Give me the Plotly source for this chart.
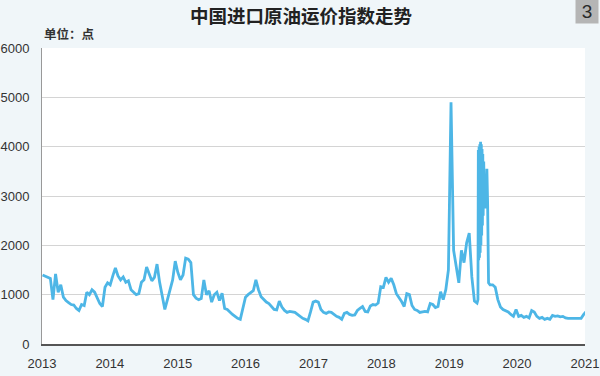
import pandas as pd
import plotly.graph_objects as go

title_text = "中国进口原油运价指数走势"
unit_text = "单位：点"
badge_text = "3"

year_ticks = ["2013", "2014", "2015", "2016", "2017", "2018", "2019", "2020", "2021"]
y_ticks = [0, 1000, 2000, 3000, 4000, 5000, 6000]

# biweekly readings from 2013-01-04 (None = covered by the detailed mid-2019 readings)
base_start = "2013-01-04"
base_values = [
    1400, 1380, 1350, 1330, 900, 1420, 1050, 1200, 950, 880,
    840, 800, 790, 720, 680, 800, 780, 1050, 1000, 1100,
    1050, 950, 820, 760, 1150, 1240, 1200, 1380, 1540, 1380,
    1300, 1360, 1250, 1280, 1100, 1050, 1000, 1020, 1250, 1300,
    1560, 1420, 1280, 1350, 1620, 1250, 950, 700, 900, 1100,
    1300, 1680, 1450, 1300, 1400, 1740, 1720, 1650, 1000, 930,
    900, 920, 1300, 1000, 1080, 850, 1000, 1050, 880, 1030,
    720, 700, 640, 600, 560, 520, 500, 720, 950, 1000,
    1050, 1080, 1300, 1100, 960, 900, 850, 820, 760, 700,
    690, 870, 750, 680, 640, 660, 650, 640, 600, 560,
    520, 500, 470, 650, 850, 870, 850, 700, 640, 620,
    650, 640, 600, 560, 540, 500, 620, 640, 600, 580,
    590, 680, 720, 760, 660, 650, 770, 800, 790, 830,
    1160, 1150, 1350, 1250, 1330, 1200, 1020, 950, 860, 760,
    1020, 1000, 780, 700, 680, 640, 650, 660, 650, 820,
    800, 740, 760, 1060, 900, 1100, 1500, 4900, 1900, 1550,
    1240, 1900, 1650, 2050, 2250, 1360, 870, 830, None, None,
    None, None, 1200, 1200, 1150, 900, 750, 700, 680, 650,
    600, 560, 700, 560, 580, 540, 560, 530, 680, 650,
    560, 520, 540, 500, 520, 500, 580, 560, 570, 550,
    560, 530, 520, 520, 520, 520, 530, 520, 600, 660,
]

# detailed readings of the mid-2019 surge
surge_dates = [
    "2019-06-05", "2019-06-07", "2019-06-09", "2019-06-11", "2019-06-13",
    "2019-06-15", "2019-06-17", "2019-06-19", "2019-06-21", "2019-06-23",
    "2019-06-25", "2019-06-27", "2019-06-29", "2019-07-01", "2019-07-03",
    "2019-07-06", "2019-07-10", "2019-07-14", "2019-07-18", "2019-07-23",
    "2019-07-27", "2019-08-01",
]
surge_values = [
    900, 3930, 1700, 4000, 1750,
    4050, 1850, 4100, 2000, 4050,
    2200, 3950, 2400, 3850, 2600,
    3700, 2800, 3000, 2750, 3550,
    2850, 1240,
]

base = pd.DataFrame({
    "date": pd.date_range(base_start, periods=len(base_values), freq="14D"),
    "value": base_values,
}).dropna()
surge = pd.DataFrame({"date": pd.to_datetime(surge_dates), "value": surge_values})
series = pd.concat([base, surge]).sort_values("date")

fig = go.Figure()
fig.add_trace(go.Scatter(
    x=series["date"], y=series["value"], mode="lines",
    line=dict(color="#4db6e6", width=2.8),
    hoverinfo="skip", showlegend=False,
))

fig.update_layout(
    width=600, height=376,
    margin=dict(l=42, r=15, t=48, b=32),
    paper_bgcolor="#f0f6f9",
    plot_bgcolor="#ffffff",
    font=dict(family="Liberation Sans, Arial, sans-serif", size=13, color="#333333"),
    xaxis=dict(
        type="date",
        range=["2013-01-01", "2021-01-01"],
        tickvals=[f"{y}-01-01" for y in year_ticks],
        ticktext=year_ticks,
        showgrid=False, zeroline=False,
        showline=True, linecolor="#555555", linewidth=2,
        ticks="", ticklabelstandoff=6,
        tickfont=dict(size=13, color="#333333"),
        automargin=False,
        fixedrange=True,
    ),
    yaxis=dict(
        range=[0, 6000],
        tickvals=y_ticks,
        ticktext=[str(v) for v in y_ticks],
        showgrid=True, gridcolor="#d4d4d4", gridwidth=1,
        zeroline=False,
        showline=True, linecolor="#999999", linewidth=1,
        ticks="", ticklabelstandoff=9,
        tickfont=dict(size=13, color="#333333"),
        automargin=False,
        fixedrange=True,
    ),
    annotations=[
        dict(text=f"<b>{title_text}</b>", xref="paper", yref="paper",
             x=(301 - 42) / 543, y=1, yshift=33, xanchor="center", yanchor="middle",
             showarrow=False,
             font=dict(family="Noto Sans CJK SC", size=18.5, color="#222222")),
        dict(text=f"<b>{unit_text}</b>", xref="paper", yref="paper",
             x=0, y=1, yshift=15, xanchor="left", yanchor="middle",
             showarrow=False,
             font=dict(family="Noto Sans CJK SC", size=12.5, color="#333333")),
        dict(text=badge_text, xref="paper", yref="paper",
             x=(587 - 42) / 543, y=1, yshift=37, xanchor="center", yanchor="middle",
             showarrow=False, bgcolor="#b5b5b5", width=20, height=22,
             font=dict(family="Liberation Sans", size=19, color="#2a2a2a")),
    ],
)

fig.write_html("out.html")
